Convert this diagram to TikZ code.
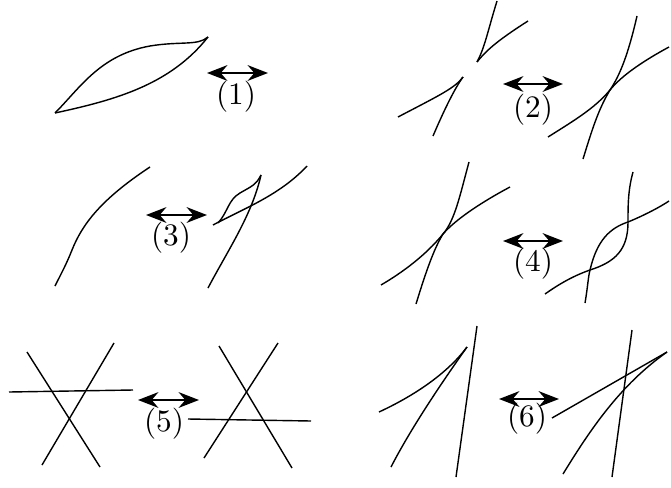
\documentclass[tikz,border=0pt]{standalone}
\usepackage{tikz}
\usetikzlibrary{arrows.meta}

\begin{document}
\begin{tikzpicture}[
  x=0.32pt, y=-0.32pt,
  curve/.style={line width=0.45pt},
  swap/.style={{Stealth[length=6.5pt,width=5pt]}-{Stealth[length=6.5pt,width=5pt]},
    line width=0.85pt},
  tag/.style={inner sep=0pt, font=\normalsize}
]
\useasboundingbox (0,0) rectangle (671,487);

\draw[curve] (55,113) .. controls (80,88) and (100,55) .. (150,46)
  .. controls (180,41) and (198,46) .. (208,37);
\draw[curve] (55,113) .. controls (115,100) and (170,85) .. (208,37);
\coordinate (w1) at (207,73);
\coordinate (e1) at (268,73);
\draw[swap] (w1) -- (e1);
\node[tag] (tag1) at (236,97) {(1)};

\draw[curve] (477,62) .. controls (485,47) and (488,30) .. (497,1);
\draw[curve] (477,62) .. controls (485,52) and (495,42) .. (528,21);
\draw[curve] (463,77) .. controls (455,88) and (440,95) .. (398,117);
\draw[curve] (463,77) .. controls (455,88) and (445,108) .. (433,136);
\draw[curve] (637,16) .. controls (628,55) and (620,75) .. (610,90)
  .. controls (598,110) and (592,130) .. (583,159);
\draw[curve] (669,47) .. controls (645,60) and (622,75) .. (610,90)
  .. controls (595,108) and (575,120) .. (548,137);
\coordinate (w2) at (503,84);
\coordinate (e2) at (563,84);
\draw[swap] (w2) -- (e2);
\node[tag] (tag2) at (533,110) {(2)};

\draw[curve] (150,167) .. controls (100,200) and (82,225) .. (72,250)
  .. controls (66,265) and (62,272) .. (55,286);
\draw[curve] (261,175) .. controls (252,215) and (228,250) .. (208,288);
\draw[curve] (213,225) .. controls (245,208) and (280,195) .. (307,166);
\draw[curve] (218,223) .. controls (228,212) and (228,200) .. (240,193)
  .. controls (252,186) and (256,185) .. (261,175);
\coordinate (w3) at (146,215);
\coordinate (e3) at (207,215);
\draw[swap] (w3) -- (e3);
\node[tag] (tag3) at (171,238) {(3)};

\draw[curve] (469,162) .. controls (460,195) and (455,220) .. (443,234)
  .. controls (433,250) and (424,278) .. (416,304);
\draw[curve] (510,187) .. controls (480,203) and (455,220) .. (443,234)
  .. controls (430,250) and (410,268) .. (381,285);
\draw[curve] (633,172) .. controls (628,190) and (628,205) .. (628,222)
  .. controls (628,250) and (615,262) .. (590,270)
  .. controls (570,277) and (555,287) .. (545,294);
\draw[curve] (585,303) .. controls (588,285) and (588,278) .. (590,270)
  .. controls (597,240) and (610,228) .. (628,222)
  .. controls (645,215) and (660,207) .. (669,201);
\coordinate (w4) at (503,241);
\coordinate (e4) at (563,241);
\draw[swap] (w4) -- (e4);
\node[tag] (tag4) at (533,264) {(4)};

\draw[curve] (27,352) -- (100,467);
\draw[curve] (114,343) -- (42,465);
\draw[curve] (9,392) -- (133,390);
\draw[curve] (219,346) -- (292,468);
\draw[curve] (278,343) -- (204,458);
\draw[curve] (188,419) -- (311,421);
\coordinate (w5) at (138,400);
\coordinate (e5) at (199,400);
\draw[swap] (w5) -- (e5);
\node[tag] (tag5) at (164,424) {(5)};

\draw[curve] (477,326) -- (456,477);
\draw[curve] (379,412) .. controls (420,393) and (450,370) .. (467,347);
\draw[curve] (391,467) .. controls (410,430) and (440,385) .. (467,347);
\draw[curve] (632,330) -- (612,477);
\draw[curve] (552,418) -- (667,352);
\draw[curve] (563,474) .. controls (590,430) and (620,385) .. (667,352);
\coordinate (w6) at (499,399);
\coordinate (e6) at (559,399);
\draw[swap] (w6) -- (e6);
\node[tag] (tag6) at (527,419) {(6)};
\end{tikzpicture}
\end{document}
